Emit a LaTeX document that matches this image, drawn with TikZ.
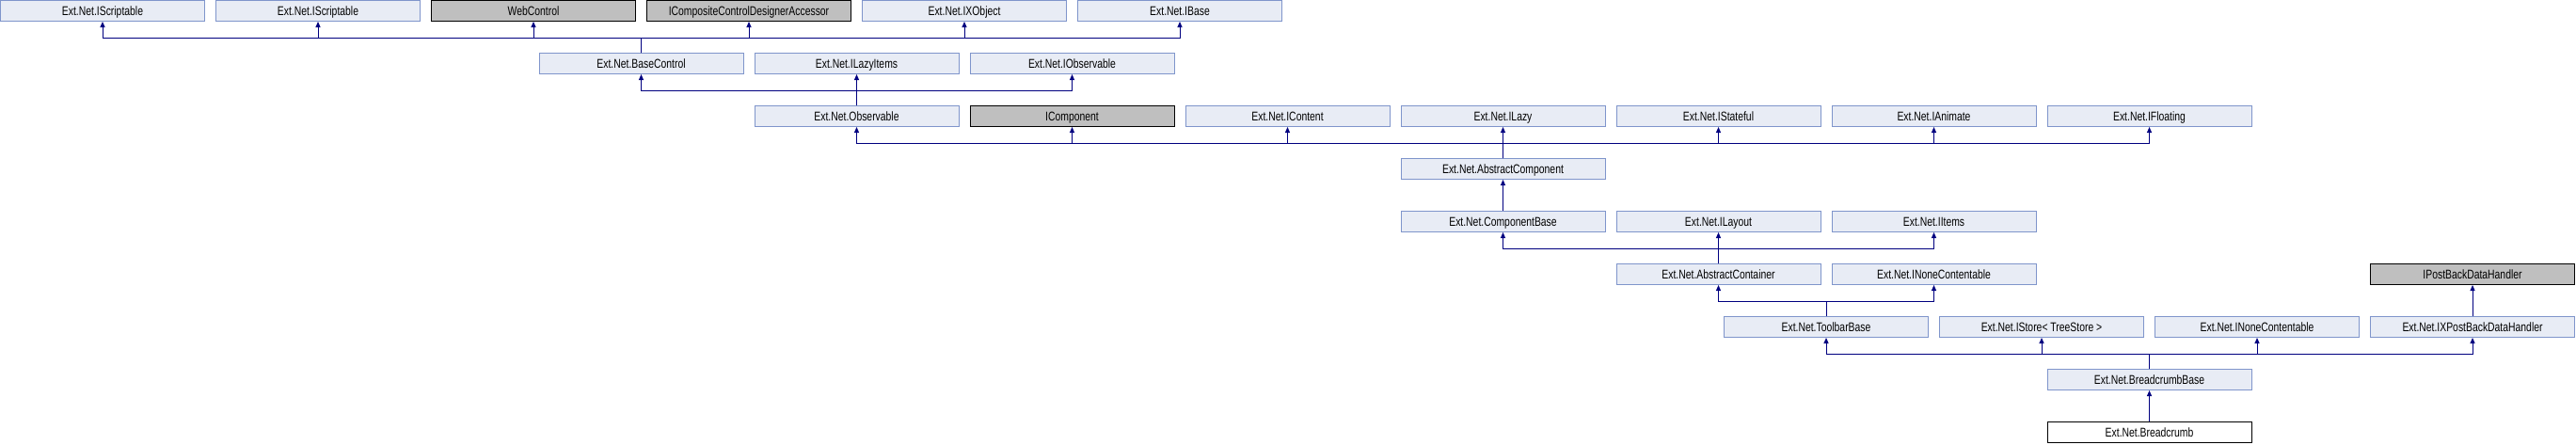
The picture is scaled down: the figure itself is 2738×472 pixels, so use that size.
\documentclass[tikz,border=0pt]{standalone}
\usepackage{fontspec}
\setmainfont[FakeStretch=0.77]{Liberation Sans}
\usetikzlibrary{arrows.meta}
\definecolor{clsFill}{HTML}{E8ECF5}
\definecolor{clsDraw}{HTML}{7F95CB}
\definecolor{extFill}{HTML}{BFBFBF}
\definecolor{inhColor}{HTML}{000080}
\tikzset{
	cls/.style={draw=clsDraw, fill=clsFill, line width=1pt, minimum width=217pt,
		minimum height=22pt, inner sep=0pt, text height=12pt, text depth=2.3pt,
		font=\fontsize{13.5}{15}\selectfont},
	extcls/.style={cls, draw=black, fill=extFill},
	curcls/.style={cls, draw=black, fill=white},
	inh/.style={draw=inhColor, line width=1pt, -{Triangle[length=6pt,width=5pt]}}
}

\begin{document}
\begin{tikzpicture}[x=1pt, y=-1pt]
\useasboundingbox (0,0) rectangle (2738,472);
% row 0
\node[cls] (is1) at (109, 11.5) {Ext.Net.IScriptable};
\node[cls] (is2) at (338, 11.5) {Ext.Net.IScriptable};
\node[extcls] (wc) at (567, 11.5) {WebControl};
\node[extcls] (iccda) at (796, 11.5) {ICompositeControlDesignerAccessor};
\node[cls] (ixobj) at (1025, 11.5) {Ext.Net.IXObject};
\node[cls] (ibase) at (1254, 11.5) {Ext.Net.IBase};
% row 1
\node[cls] (basectl) at (681.5, 67.5) {Ext.Net.BaseControl};
\node[cls] (ilazyitems) at (910.5, 67.5) {Ext.Net.ILazyItems};
\node[cls] (iobs) at (1139.5, 67.5) {Ext.Net.IObservable};
% row 2
\node[cls] (obs) at (910.5, 123.5) {Ext.Net.Observable};
\node[extcls] (icomp) at (1139.5, 123.5) {IComponent};
\node[cls] (icontent) at (1368.5, 123.5) {Ext.Net.IContent};
\node[cls] (ilazy) at (1597.5, 123.5) {Ext.Net.ILazy};
\node[cls] (istateful) at (1826.5, 123.5) {Ext.Net.IStateful};
\node[cls] (ianimate) at (2055.5, 123.5) {Ext.Net.IAnimate};
\node[cls] (ifloating) at (2284.5, 123.5) {Ext.Net.IFloating};
% row 3 and 4
\node[cls] (abscomp) at (1597.5, 179.5) {Ext.Net.AbstractComponent};
\node[cls] (compbase) at (1597.5, 235.5) {Ext.Net.ComponentBase};
\node[cls] (ilayout) at (1826.5, 235.5) {Ext.Net.ILayout};
\node[cls] (iitems) at (2055.5, 235.5) {Ext.Net.IItems};
% row 5
\node[cls] (abscont) at (1826.5, 291.5) {Ext.Net.AbstractContainer};
\node[cls] (inone1) at (2055.5, 291.5) {Ext.Net.INoneContentable};
\node[extcls] (ipbdh) at (2628, 291.5) {IPostBackDataHandler};
% row 6
\node[cls] (toolbar) at (1941, 347.5) {Ext.Net.ToolbarBase};
\node[cls] (istore) at (2170, 347.5) {Ext.Net.IStore< TreeStore >};
\node[cls] (inone2) at (2399, 347.5) {Ext.Net.INoneContentable};
\node[cls] (ixpbdh) at (2628, 347.5) {Ext.Net.IXPostBackDataHandler};
% row 7 and 8
\node[cls] (bcbase) at (2284.5, 403.5) {Ext.Net.BreadcrumbBase};
\node[curcls] (bc) at (2284.5, 459.5) {Ext.Net.Breadcrumb};

% inheritance
\foreach \p in {is1,is2,wc,iccda,ixobj,ibase}
	\draw[inh] (basectl.north) -- ++(0,-16) -| (\p.south);
\foreach \p in {basectl,ilazyitems,iobs}
	\draw[inh] (obs.north) -- ++(0,-16) -| (\p.south);
\foreach \p in {obs,icomp,icontent,ilazy,istateful,ianimate,ifloating}
	\draw[inh] (abscomp.north) -- ++(0,-16) -| (\p.south);
\draw[inh] (compbase.north) -- (abscomp.south);
\foreach \p in {compbase,ilayout,iitems}
	\draw[inh] (abscont.north) -- ++(0,-16) -| (\p.south);
\foreach \p in {abscont,inone1}
	\draw[inh] (toolbar.north) -- ++(0,-16) -| (\p.south);
\foreach \p in {toolbar,istore,inone2,ixpbdh}
	\draw[inh] (bcbase.north) -- ++(0,-16) -| (\p.south);
\draw[inh] (bc.north) -- (bcbase.south);
\draw[inh] (ixpbdh.north) -- (ipbdh.south);
\end{tikzpicture}
\end{document}
